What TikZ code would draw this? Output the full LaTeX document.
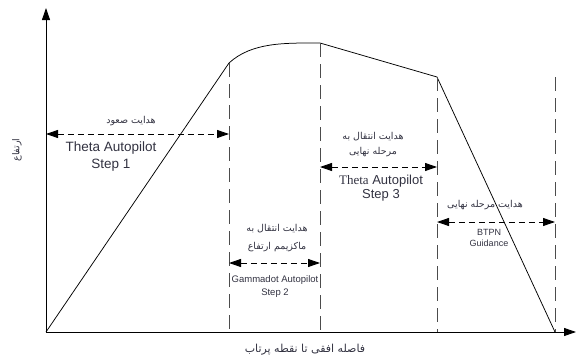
\documentclass[tikz,border=0pt]{standalone}
\usepackage{fontspec}
\setmainfont{Liberation Sans}
\newfontfamily\serifb{Liberation Serif}
\newfontfamily\arabicfont[Script=Arabic]{DejaVu Sans}
\TeXXeTstate=1
\usetikzlibrary{arrows.meta}
\definecolor{txtc}{RGB}{50,50,65}
\begin{document}
\begin{tikzpicture}[x=1pt,y=-1pt,
  axis/.style={line width=0.9pt,-{Triangle[length=12pt,width=8pt]}},
  curve/.style={line width=0.75pt},
  vdash/.style={line width=0.8pt,dash pattern=on 14pt off 7pt,gray!60!black},
  harrow/.style={line width=0.9pt,dash pattern=on 6pt off 4pt,{Triangle[length=12pt,width=8pt]}-{Triangle[length=12pt,width=8pt]}},
  ar/.style={font=\arabicfont\fontsize{9.5}{15}\selectfont,text=txtc,align=center,inner sep=0pt},
  lat/.style={text=txtc,align=center,inner sep=0pt}]
\useasboundingbox (0,0) rectangle (576,359);
% key points
\coordinate (O) at (46,332);
\coordinate (Ytop) at (46,8);
\coordinate (Xend) at (576,332);
\coordinate (P1) at (229,63);
\coordinate (P2) at (320,43);
\coordinate (P3) at (437,77);
\coordinate (P4) at (555,332);
\coordinate (Q4) at (555,77);
\coordinate (B1) at (229,332);
\coordinate (B2) at (320,332);
\coordinate (B3) at (437,332);
% axes
\draw[axis] (O) -- (Ytop);
\draw[axis] (O) -- (Xend);
% trajectory
\draw[curve] (O) -- (P1) .. controls (252,42) and (285,43) .. (P2) -- (P3) -- (P4);
% vertical dashed lines
\draw[vdash] (P1) -- (B1);
\draw[vdash] (P2) -- (B2);
\draw[vdash] (P3) -- (B3);
\draw[vdash] (Q4) -- (P4);
% horizontal arrows
\coordinate (A1l) at (46,134);   \coordinate (A1r) at (229,134);
\coordinate (A2l) at (229,263);  \coordinate (A2r) at (320,263);
\coordinate (A3l) at (320,167);  \coordinate (A3r) at (437,167);
\coordinate (A4l) at (437,222);  \coordinate (A4r) at (555,222);
\draw[harrow] (A1l) -- (A1r);
\draw[harrow] (A2l) -- (A2r);
\draw[harrow] (A3l) -- (A3r);
\draw[harrow] (A4l) -- (A4r);
% labels
\node[ar] (t1a) at (131,121) {\beginR هدایت صعود\endR};
\node[lat,font=\fontsize{13.5}{17}\selectfont] (t1b) at (111,157) {Theta Autopilot\\Step 1};
\node[ar,font=\arabicfont\fontsize{9.5}{18}\selectfont] (t2a) at (277,238) {\beginR هدایت انتقال به\endR\\\beginR ماکزیمم ارتفاع\endR};
\node[lat,font=\fontsize{9.5}{13}\selectfont] (t2b) at (275,287) {Gammadot Autopilot\\Step 2};
\node[ar,font=\arabicfont\fontsize{9.5}{15}\selectfont] (t3a) at (373,145) {\beginR هدایت انتقال به\endR\\\beginR مرحله نهایی\endR};
\node[lat,font=\fontsize{13}{13.5}\selectfont] (t3b) at (381,188) {{\serifb Theta}\ Autopilot\\Step 3};
\node[ar] (t4a) at (485,205) {\beginR هدایت مرحله نهایی\endR};
\node[lat,font=\fontsize{9}{11}\selectfont] (t4b) at (489,238) {BTPN\\Guidance};
\node[ar,rotate=90,font=\arabicfont\fontsize{9.5}{10}\selectfont] (yl) at (17,150) {\beginR ارتفاع\endR};
\node[ar,font=\arabicfont\fontsize{11}{12}\selectfont] (xl) at (305,350) {\beginR فاصله افقی تا نقطه پرتاب\endR};
\end{tikzpicture}
\end{document}
